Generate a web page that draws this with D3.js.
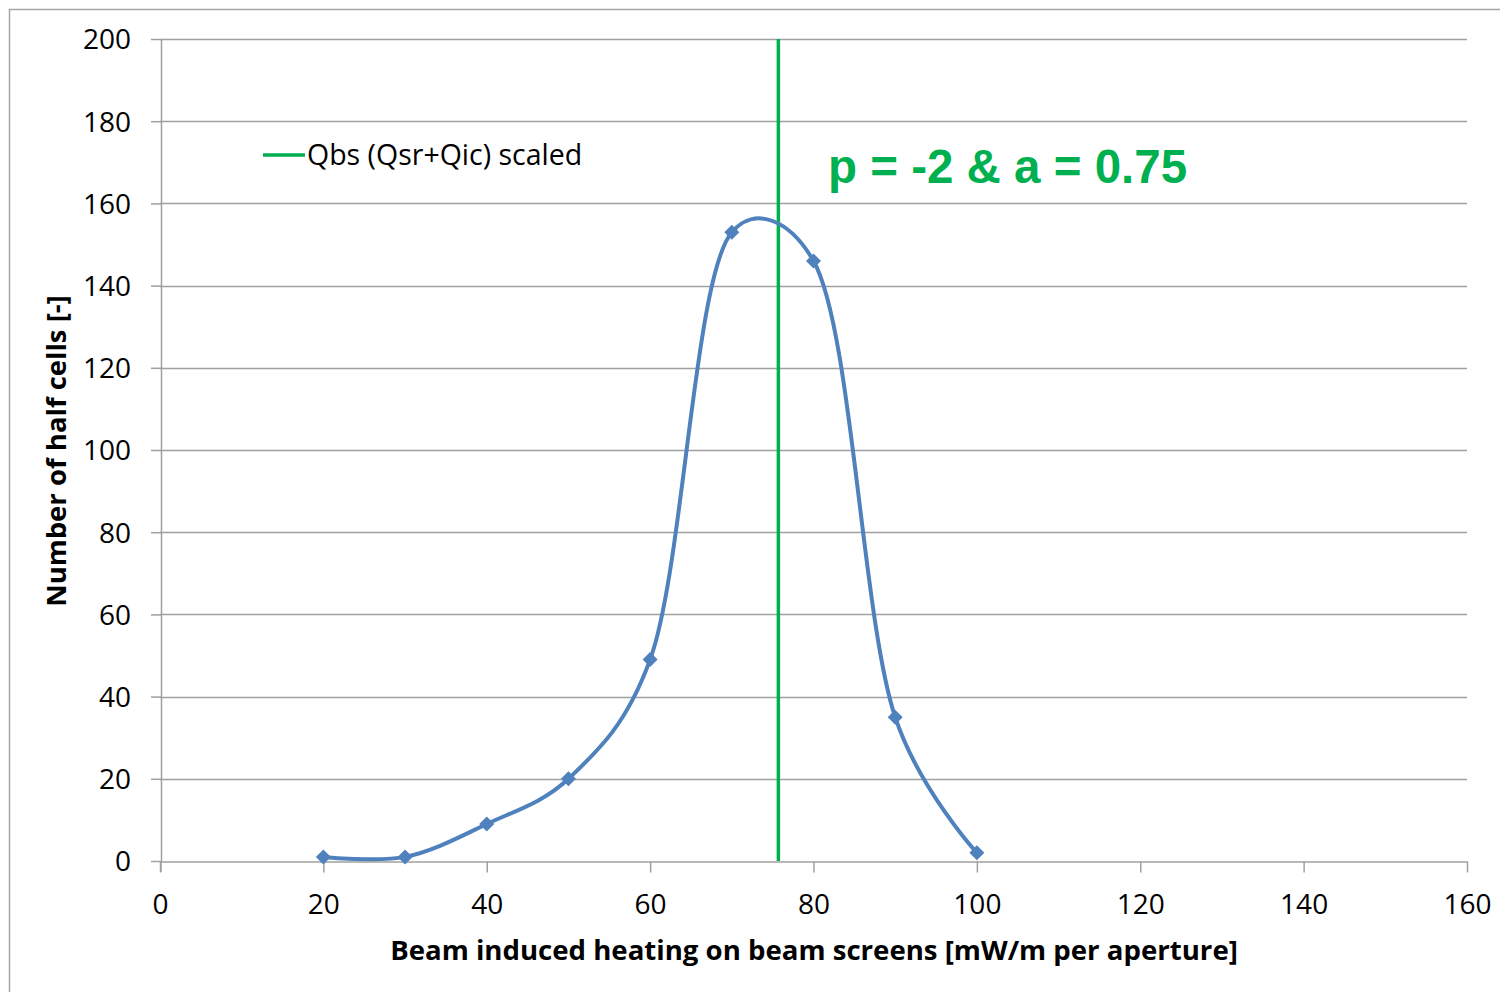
<!DOCTYPE html>
<html>
<head>
<meta charset="utf-8">
<script src="https://cdn.jsdelivr.net/npm/d3@7"></script>
<style>
  html, body { margin: 0; padding: 0; background: #fff; }
  svg { display: block; font-family: "Open Sans", "Noto Sans", sans-serif; }
</style>
</head>
<body>
<svg id="chart" width="1500" height="992"></svg>
<script>
// Heating per aperture [mW/m] and count of half cells
const heating = [20, 30, 40, 50, 60, 70, 80, 90, 100];
const halfCells = [1, 1, 9, 20, 49, 153, 146, 35, 2];
const xTicks = [0, 20, 40, 60, 80, 100, 120, 140, 160];
const yTicks = [0, 20, 40, 60, 80, 100, 120, 140, 160, 180, 200];
const scaledQbs = 75.7;
const legendLabel = "Qbs (Qsr+Qic) scaled";
const annotation = "p = -2 & a = 0.75";
const xTitle = "Beam induced heating on beam screens [mW/m per aperture]";
const yTitle = "Number of half cells [-]";

const svg = d3.select("#chart");
const plotLeft = 160, plotRight = 1467, plotTop = 39, plotBottom = 861;

const x = d3.scaleLinear().domain([0, 160]).range([plotLeft, plotRight]);
const y = d3.scaleLinear().domain([0, 200]).range([plotBottom, plotTop]);

// outer chart frame
svg.append("rect")
  .attr("x", 9.5).attr("y", 9.5).attr("width", 1500).attr("height", 1000)
  .attr("fill", "none").attr("stroke", "#a6a6a6").attr("stroke-width", 1.5);

// horizontal gridlines
svg.append("g").selectAll("line").data(yTicks.filter(d => d > 0)).join("line")
  .attr("x1", plotLeft).attr("x2", plotRight)
  .attr("y1", d => Math.round(y(d)) + 0.5).attr("y2", d => Math.round(y(d)) + 0.5)
  .attr("stroke", "#a0a0a0").attr("stroke-width", 1.5);

// y axis
const yAxis = svg.append("g")
  .attr("transform", `translate(${plotLeft + 1},0)`)
  .call(d3.axisLeft(y).tickValues(yTicks).tickSize(10).tickPadding(20).tickSizeOuter(0));
// x axis
const xAxis = svg.append("g")
  .attr("transform", `translate(0,${plotBottom + 0.5})`)
  .call(d3.axisBottom(x).tickValues(xTicks).tickSize(11).tickPadding(22).tickSizeOuter(0));

[yAxis, xAxis].forEach(g => {
  g.selectAll("path.domain").attr("stroke", "#a0a0a0").attr("stroke-width", 1.5);
  g.selectAll(".tick line").attr("stroke", "#a0a0a0").attr("stroke-width", 1.5);
  g.selectAll(".tick text").attr("fill", "#000").style("font-size", "28px")
    .style("font-family", "'Open Sans', sans-serif");
});
yAxis.selectAll(".tick text").attr("dy", "0.35em");
// extend the y axis line down through the x tick length
svg.append("line").attr("x1", plotLeft + 1).attr("x2", plotLeft + 1)
  .attr("y1", plotBottom).attr("y2", plotBottom + 11)
  .attr("stroke", "#a0a0a0").attr("stroke-width", 1.5);

// scaled Qbs marker line
svg.append("line")
  .attr("x1", x(scaledQbs)).attr("x2", x(scaledQbs))
  .attr("y1", y(200)).attr("y2", y(0))
  .attr("stroke", "#00b050").attr("stroke-width", 3.5);

// smoothed distribution curve
const pts = heating.map((h, i) => [h, halfCells[i]]);
const line = d3.line().x(d => x(d[0])).y(d => y(d[1])).curve(d3.curveCatmullRom.alpha(0.3));
svg.append("path").datum(pts)
  .attr("d", line).attr("fill", "none")
  .attr("stroke", "#4f81bd").attr("stroke-width", 4);

// diamond markers
svg.append("g").selectAll("path").data(pts).join("path")
  .attr("transform", d => `translate(${x(d[0])},${y(d[1])})`)
  .attr("d", "M0,-7.5L7.5,0L0,7.5L-7.5,0Z")
  .attr("fill", "#4f81bd");

// legend
svg.append("line").attr("x1", 263).attr("x2", 305).attr("y1", 155).attr("y2", 155)
  .attr("stroke", "#00b050").attr("stroke-width", 3.5);
svg.append("text").attr("x", 307).attr("y", 165)
  .style("font-size", "28.5px").attr("fill", "#000").text(legendLabel);

// annotation
svg.append("text").attr("x", 828).attr("y", 183)
  .style("font-size", "47.5px").style("font-weight", "bold")
  .style("font-family", "'Liberation Sans', Arial, sans-serif")
  .attr("fill", "#00b050").text(annotation);

// axis titles
svg.append("text").attr("x", 814).attr("y", 960)
  .attr("text-anchor", "middle").style("font-size", "27.6px").style("font-weight", "bold")
  .attr("fill", "#000").text(xTitle);
svg.append("text")
  .attr("transform", `translate(66,451) rotate(-90)`)
  .attr("text-anchor", "middle").style("font-size", "27.5px").style("font-weight", "bold")
  .attr("fill", "#000").text(yTitle);
</script>
</body>
</html>
